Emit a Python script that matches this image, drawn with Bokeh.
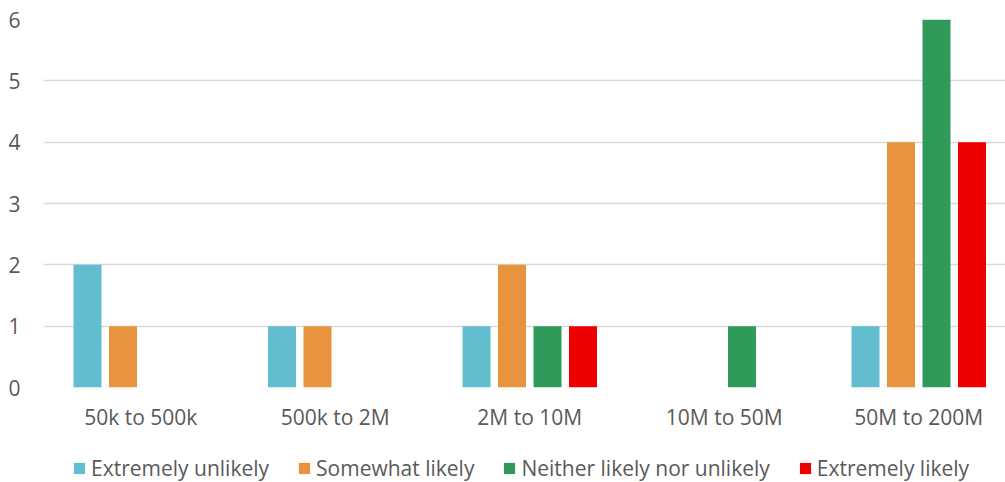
from bokeh.plotting import figure
from bokeh.layouts import column
from bokeh.models import ColumnDataSource, Range1d, FixedTicker, Legend, LegendItem
from bokeh.transform import dodge
from bokeh.embed import file_html
from bokeh.resources import INLINE

# Revenue bands and number of answers per likelihood level
categories = ["50k to 500k", "500k to 2M", "2M to 10M", "10M to 50M", "50M to 200M"]
extremely_unlikely = [2, 1, 1, 0, 1]
somewhat_likely = [1, 1, 2, 0, 4]
neither = [0, 0, 1, 1, 6]
extremely_likely = [0, 0, 1, 0, 4]

series_names = ["Extremely unlikely", "Somewhat likely",
                "Neither likely nor unlikely", "Extremely likely"]
series_values = [extremely_unlikely, somewhat_likely, neither, extremely_likely]
colors = ["#62bdcf", "#e8943f", "#2f9a5a", "#ee0000"]

FONT = "Open Sans"
FONT_SIZE = "21px"
TEXT_COLOR = "#595959"
GRID_COLOR = "#d9d9d9"

positions = [i + 0.5 for i in range(len(categories))]
data = dict(pos=positions)
for k, vals in enumerate(series_values):
    data[f"s{k}"] = vals
source = ColumnDataSource(data)

x_range = Range1d(0, 4.946)
pitch = 0.1825
bar_w = 0.144
offsets = [-1.5 * pitch, -0.5 * pitch, 0.5 * pitch, 1.5 * pitch]


def add_bars(fig):
    rs = []
    for k, col in enumerate(colors):
        rs.append(fig.vbar(x=dodge("pos", offsets[k], range=fig.x_range), top=f"s{k}",
                           width=bar_w, bottom=0, source=source,
                           fill_color=col, line_color=None))
    return rs


# Main chart
p = figure(
    width=1005, height=437,
    x_range=x_range, y_range=Range1d(0, 6),
    output_backend="svg", toolbar_location=None,
    min_border_left=43, min_border_right=0, min_border_top=19,
    min_border_bottom=50,
)
p.outline_line_color = None
p.border_fill_color = "white"
add_bars(p)

p.xaxis.ticker = FixedTicker(ticks=positions)
p.xaxis.major_label_overrides = {pos: c for pos, c in zip(positions, categories)}
p.xaxis.axis_line_color = None
p.xaxis.major_tick_line_color = None
p.xaxis.minor_tick_line_color = None
p.xaxis.major_label_standoff = 9
p.xaxis.major_label_text_font = FONT
p.xaxis.major_label_text_font_size = FONT_SIZE
p.xaxis.major_label_text_color = TEXT_COLOR

p.yaxis.ticker = FixedTicker(ticks=[0, 1, 2, 3, 4, 5, 6])
p.yaxis.axis_line_color = None
p.yaxis.major_tick_line_color = None
p.yaxis.minor_tick_line_color = None
p.yaxis.major_label_standoff = 17
p.yaxis.major_label_text_font = FONT
p.yaxis.major_label_text_font_size = FONT_SIZE
p.yaxis.major_label_text_color = TEXT_COLOR

p.xgrid.grid_line_color = None
p.ygrid.grid_line_color = GRID_COLOR
p.ygrid.grid_line_width = 1.6

# Legend strip: same series, with the value range scrolled away so only the key shows
leg = figure(
    width=1005, height=45,
    x_range=x_range, y_range=Range1d(100, 101),
    output_backend="svg", toolbar_location=None,
    min_border=0, min_border_left=43, min_border_right=0,
)
leg.axis.visible = False
leg.grid.visible = False
leg.outline_line_color = None
leg_renderers = add_bars(leg)

legend = Legend(
    items=[LegendItem(label=n, renderers=[r]) for n, r in zip(series_names, leg_renderers)],
    orientation="horizontal", location=(29, 0),
    glyph_width=14, glyph_height=14, label_standoff=5, spacing=28,
    padding=0, margin=0, border_line_color=None, background_fill_alpha=0,
    label_text_font=FONT, label_text_font_size=FONT_SIZE, label_text_color=TEXT_COLOR,
)
leg.add_layout(legend, "center")

open("out.html", "w").write(file_html(column(p, leg, spacing=0), INLINE))
